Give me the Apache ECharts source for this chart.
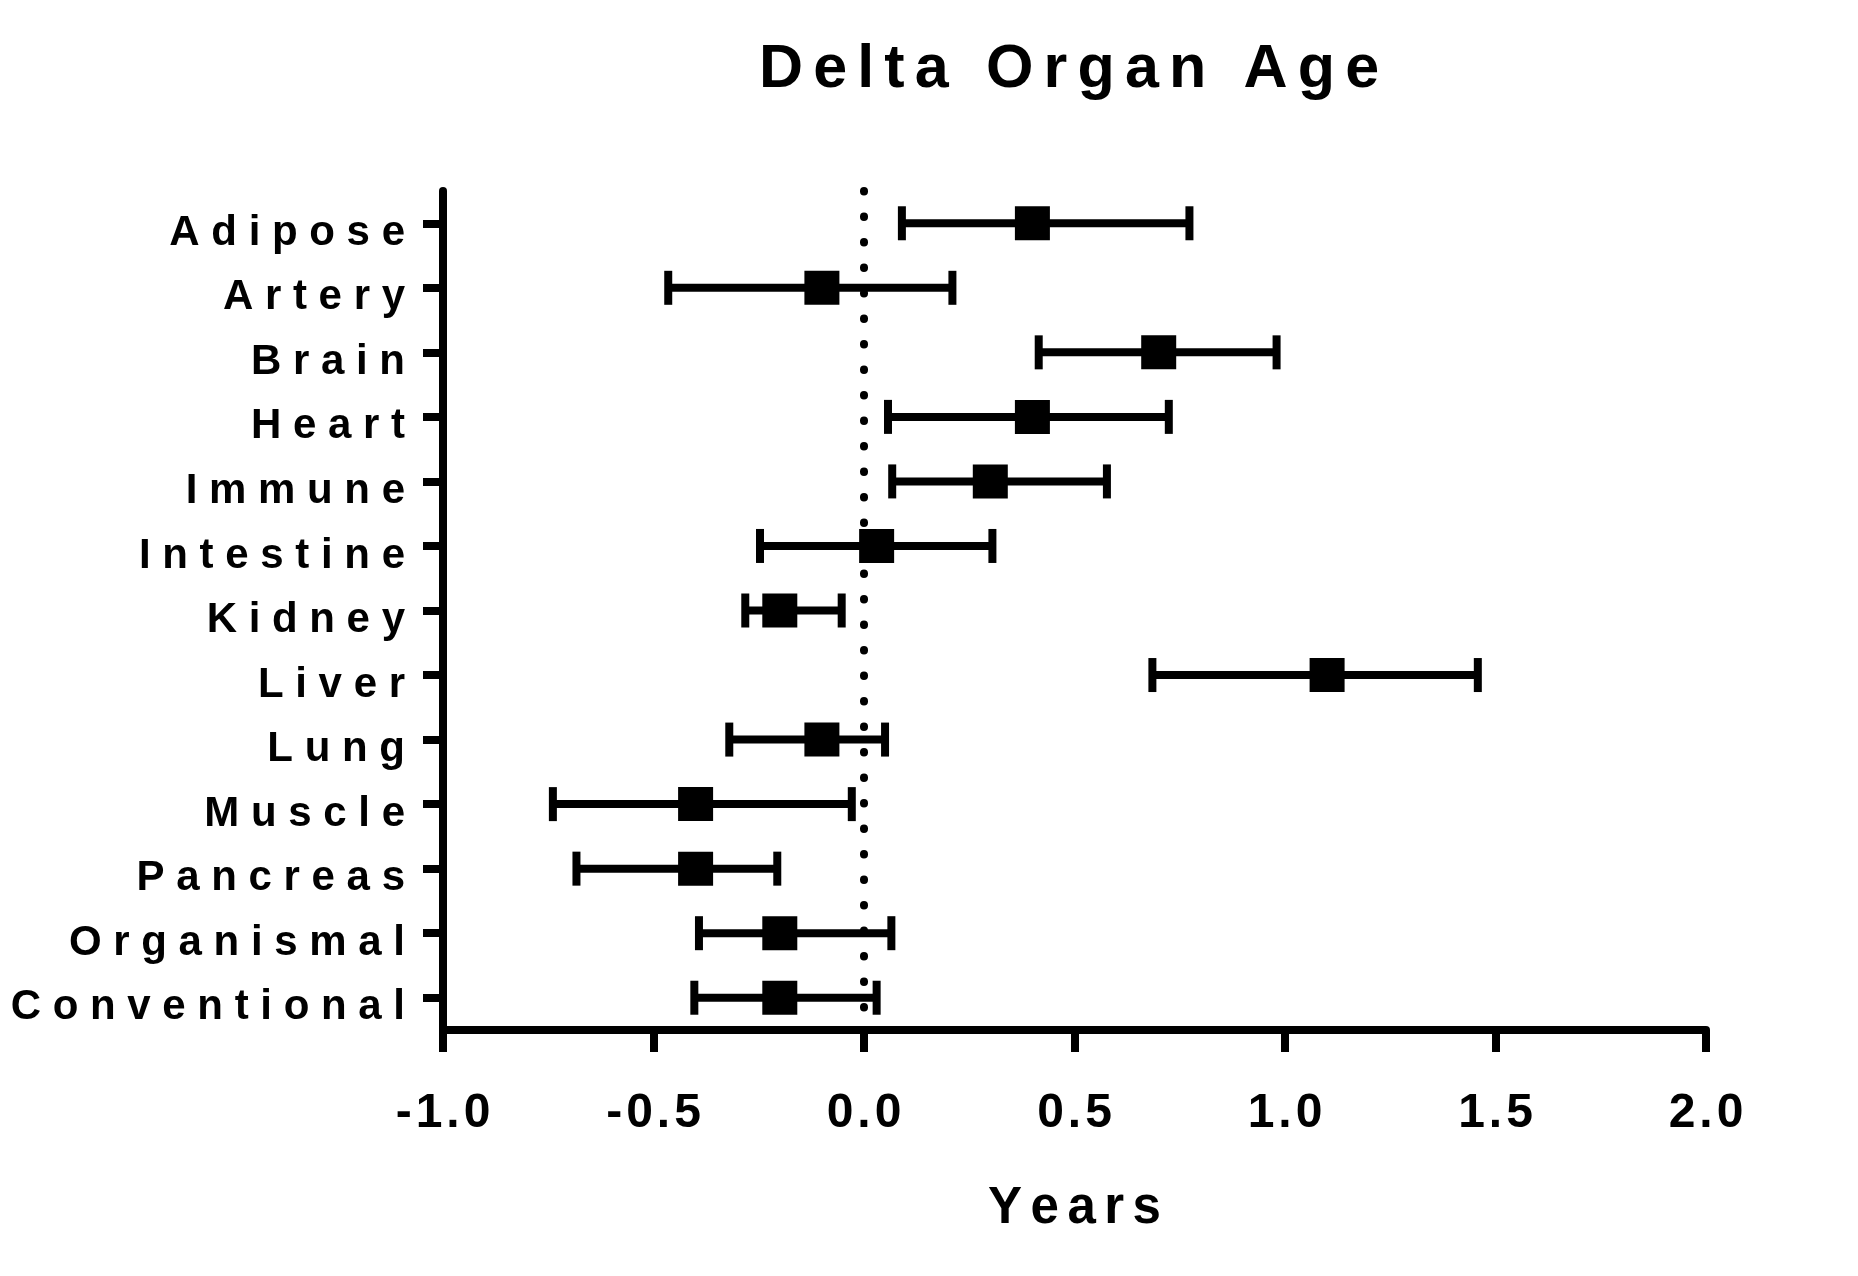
<!DOCTYPE html>
<html>
<head>
<meta charset="utf-8">
<script src="https://cdn.jsdelivr.net/npm/echarts@6/dist/echarts.min.js"></script>
<style>
html,body{margin:0;padding:0;background:#fff;}
#chart{width:1858px;height:1276px;}
</style>
</head>
<body>
<div id="chart"></div>
<script>
const categories = ['Adipose','Artery','Brain','Heart','Immune','Intestine','Kidney','Liver','Lung','Muscle','Pancreas','Organismal','Conventional'];
const means = [0.40, -0.10, 0.70, 0.40, 0.30, 0.03, -0.20, 1.10, -0.10, -0.40, -0.40, -0.20, -0.20];
const lower = [0.09, -0.465, 0.415, 0.057, 0.067, -0.247, -0.282, 0.685, -0.32, -0.739, -0.683, -0.392, -0.403];
const upper = [0.773, 0.21, 0.98, 0.724, 0.577, 0.305, -0.053, 1.458, 0.05, -0.029, -0.206, 0.065, 0.03];
const xTicks = [-1.0, -0.5, 0.0, 0.5, 1.0, 1.5, 2.0];
const titleText = 'Delta Organ Age';
const xName = 'Years';

const FONT = '"Liberation Sans", Arial, Helvetica, sans-serif';
const spaced = (s, sep) => String(s).split('').join(sep);

const chart = echarts.init(document.getElementById('chart'));
const option = {
  animation: false,
  backgroundColor: '#fff',
  title: {
    text: spaced(titleText, '\u2006'),
    left: 1064,
    top: 35,
    textAlign: 'center',
    textStyle: {fontFamily: FONT, fontWeight: 'bold', fontSize: 61, color: '#000'}
  },
  grid: {left: 443, right: 152, top: 191, bottom: 246, containLabel: false},
  xAxis: {
    type: 'value',
    min: xTicks[0],
    max: xTicks[xTicks.length - 1],
    interval: 0.5,
    name: spaced(xName, '\u2006'),
    nameLocation: 'middle',
    nameGap: 153,
    nameTextStyle: {fontFamily: FONT, fontWeight: 'bold', fontSize: 51, color: '#000'},
    axisLine: {show: true, onZero: false, lineStyle: {color: '#000', width: 8}},
    axisTick: {show: true, length: 22, lineStyle: {color: '#000', width: 8}},
    splitLine: {show: false},
    axisLabel: {
      margin: 60,
      fontFamily: FONT, fontWeight: 'bold', fontSize: 48, color: '#000',
      formatter: v => spaced(v.toFixed(1), '\u200A')
    }
  },
  yAxis: {
    type: 'category',
    data: categories,
    inverse: true,
    axisLine: {show: true, onZero: false, lineStyle: {color: '#000', width: 8}},
    axisTick: {show: true, alignWithLabel: true, length: 20, lineStyle: {color: '#000', width: 8}},
    splitLine: {show: false},
    axisLabel: {
      margin: 38,
      verticalAlign: 'top',
      lineHeight: 20,
      fontFamily: FONT, fontWeight: 'bold', fontSize: 42, color: '#000',
      formatter: v => spaced(v, ' ')
    }
  },
  series: [
    {
      type: 'line',
      data: [],
      z: 1,
      markLine: {
        silent: true,
        symbol: 'none',
        label: {show: false},
        lineStyle: {type: [0.5, 25], cap: 'round', width: 8, color: '#000'},
        data: [{xAxis: 0}]
      }
    },
    {
      type: 'custom',
      z: 2,
      encode: {x: [0, 1], y: 2},
      data: categories.map((c, i) => [lower[i], upper[i], i]),
      renderItem: function (params, api) {
        const yi = api.value(2);
        const lo = api.coord([api.value(0), yi]);
        const hi = api.coord([api.value(1), yi]);
        const h = 17;
        const st = {stroke: '#000', lineWidth: 8};
        return {
          type: 'group',
          children: [
            {type: 'line', shape: {x1: lo[0], y1: lo[1], x2: hi[0], y2: hi[1]}, style: st},
            {type: 'line', shape: {x1: lo[0], y1: lo[1] - h, x2: lo[0], y2: lo[1] + h}, style: st},
            {type: 'line', shape: {x1: hi[0], y1: hi[1] - h, x2: hi[0], y2: hi[1] + h}, style: st}
          ]
        };
      }
    },
    {
      type: 'scatter',
      z: 3,
      symbol: 'rect',
      symbolSize: [35, 34],
      itemStyle: {color: '#000', opacity: 1},
      data: categories.map((c, i) => [means[i], c])
    }
  ]
};
chart.setOption(option);
</script>
</body>
</html>
